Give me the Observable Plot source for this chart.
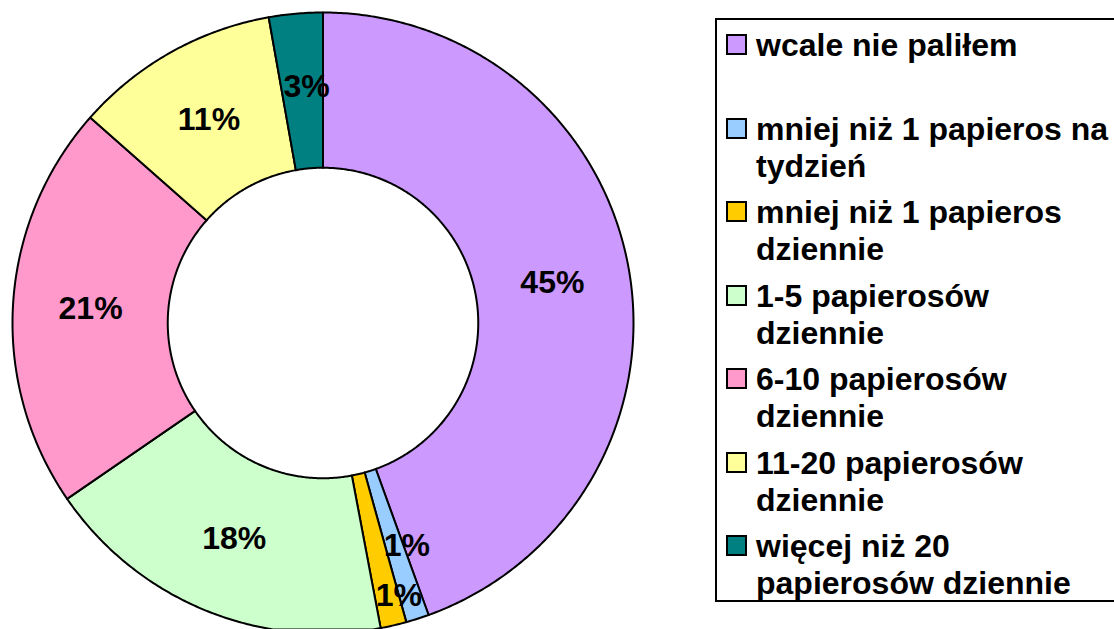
<!DOCTYPE html>
<html>
<head>
<meta charset="utf-8">
<script src="https://cdn.jsdelivr.net/npm/d3@7"></script>
<script src="https://cdn.jsdelivr.net/npm/@observablehq/plot@0.6"></script>
<style>
  html, body { margin: 0; padding: 0; background: #fff; overflow: hidden; width: 1114px; height: 629px; }
  #chart { position: absolute; left: 0; top: 0; }
  #legend { position: absolute; left: 715px; top: 18px; width: 430px; height: 584px; border: 2px solid #000; box-sizing: border-box; background: #fff; }
  .item { position: absolute; left: 9px; font: bold 32px "Liberation Sans", Arial, sans-serif; line-height: 37px; color: #000; white-space: nowrap; }
  .sw { position: absolute; left: 0; top: 7px; width: 21px; height: 21px; border: 2px solid #000; box-sizing: border-box; }
  .txt { position: absolute; left: 30px; top: 0; }
</style>
</head>
<body>
<div id="chart"></div>
<div id="legend"></div>
<script>
const categories = ["wcale nie paliłem", "mniej niż 1 papieros na tydzień", "mniej niż 1 papieros dziennie", "1-5 papierosów dziennie", "6-10 papierosów dziennie", "11-20 papierosów dziennie", "więcej niż 20 papierosów dziennie"];
const legendLines = [["wcale nie paliłem"], ["mniej niż 1 papieros na", "tydzień"], ["mniej niż 1 papieros", "dziennie"], ["1-5 papierosów", "dziennie"], ["6-10 papierosów", "dziennie"], ["11-20 papierosów", "dziennie"], ["więcej niż 20", "papierosów dziennie"]];
const values = [44.5, 1.2, 1.35, 18.4, 21.1, 10.7, 2.8];
const labels = ["45%", "1%", "1%", "18%", "21%", "11%", "3%"];
const colors = ["#CC99FF", "#99CCFF", "#FFCC00", "#CCFFCC", "#FF99CC", "#FFFF99", "#008080"];

const W = 700, H = 629;
const cx = 322.5, cy = 322.5, R = 310.5;   // pixel layout of the ring
const inner = 0.5;                          // inner radius relative to outer

const arcs = d3.pie().sort(null).value(d => d)(values);
const pt = (a, r) => [Math.sin(a) * r, -Math.cos(a) * r];

const slices = arcs.map((a, i) => {
  const n = Math.max(8, Math.ceil((a.endAngle - a.startAngle) * 120));
  const ring = [];
  for (let k = 0; k <= n; k++) ring.push(pt(a.startAngle + (a.endAngle - a.startAngle) * k / n, 1));
  for (let k = n; k >= 0; k--) ring.push(pt(a.startAngle + (a.endAngle - a.startAngle) * k / n, inner));
  ring.push(ring[0]);
  const mid = (a.startAngle + a.endAngle) / 2;
  const [lx, ly] = pt(mid, (1 + inner) / 2);
  return {
    type: "Feature",
    properties: {category: categories[i], value: values[i], label: labels[i], lx, ly, i},
    geometry: {type: "Polygon", coordinates: [ring]}
  };
});

const domain = {type: "MultiPoint", coordinates: [[(0 - cx) / R, (0 - cy) / R], [(W - cx) / R, (H - cy) / R]]};

const labelData = slices.map(s => s.properties);
const font = {fontSize: 32, fontWeight: "bold", fill: "#000", fontFamily: "Liberation Sans, Arial, sans-serif"};

const plot = Plot.plot({
  width: W, height: H,
  margin: 0,
  projection: {type: "identity", domain, inset: 0},
  color: {domain: categories, range: colors},
  marks: [
    Plot.geo(slices, {fill: d => d.properties.category, stroke: "#000", strokeWidth: 2}),
    Plot.text(labelData.filter(d => d.i === 0 || (d.i >= 3 && d.i <= 5)), {x: "lx", y: "ly", text: "label", ...font}),
    Plot.text(labelData.filter(d => d.i === 6), {x: "lx", y: "ly", text: "label", dx: 4, dy: -4, ...font}),
    Plot.text(labelData.filter(d => d.i === 1), {x: "lx", y: "ly", text: "label", dx: 13, dy: 1, ...font}),
    Plot.text(labelData.filter(d => d.i === 2), {x: "lx", y: "ly", text: "label", dx: 23, dy: 46, ...font})
  ]
});
document.getElementById("chart").appendChild(plot);

const legend = document.getElementById("legend");
categories.forEach((c, i) => {
  const item = document.createElement("div");
  item.className = "item";
  item.style.top = (7.4 + i * 83.5) + "px";
  const sw = document.createElement("div");
  sw.className = "sw";
  sw.style.background = colors[i];
  const t = document.createElement("div");
  t.className = "txt";
  t.innerHTML = legendLines[i].join("<br>");
  item.appendChild(sw);
  item.appendChild(t);
  legend.appendChild(item);
});
</script>
</body>
</html>
